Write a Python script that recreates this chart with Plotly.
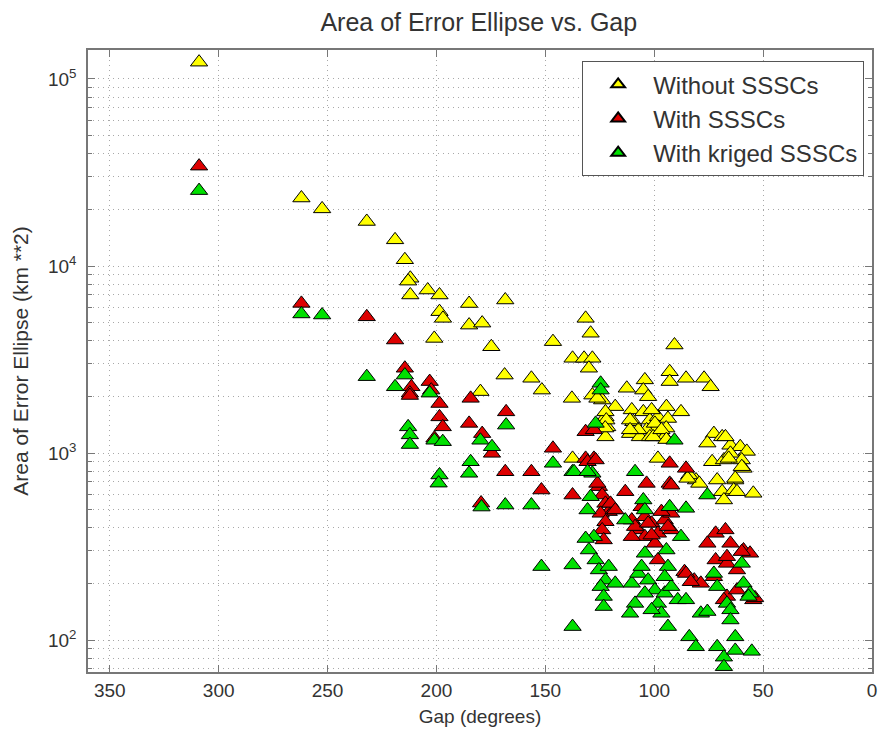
import plotly.graph_objects as go

# ---- data ----
gap_without = [309, 262, 252.5, 232, 219, 214.5, 212, 213, 212, 204, 198.6, 198.6, 197, 201,
               185, 168.4, 185, 179, 174.8, 146.5, 131.5, 129.2, 137.5, 132.2, 128.4, 130,
               168.7, 156.4, 151.6, 179.8, 137.8, 90.7, 92.9, 92.9, 85.4, 77.1, 74.1, 112.6,
               104.3, 105, 102.8, 128.4, 123.9, 117.9, 122.4, 121.6, 122.4, 110.3, 109.6, 111.1,
               106.6, 105, 102, 98.3, 94.4, 87.7, 93.7, 98.3, 94.5, 103.5, 99, 102, 95.2, 107.3,
               72.6, 75.6, 68.8, 65, 60.5, 57.5, 73.4, 68, 65, 59.8, 59, 71.1, 62.8, 68.8, 63.5,
               54.5, 68, 80.8, 83.9, 98.3, 79.3, 67.3, 65.8, 59.8, 84.7, 62.8, 62, 137.5, 122.4,
               122, 122.5, 111.1, 111.1, 101.2, 99.7, 100.5, 96.7, 94.4, 126.1]
area_without = [123000, 23100, 20200, 17300, 13800, 10800, 8600, 8300, 7000, 7440, 7000, 5700, 5250, 4100,
                6300, 6580, 4830, 4950, 3700, 3940, 5250, 4370, 3210, 3210, 3210, 2840,
                2610, 2510, 2170, 2130, 1960, 3780, 2720, 2410, 2510, 2510, 2260, 2220,
                2460, 2170, 2000, 2040, 1920, 1770, 1560, 1380, 1220, 1700, 1470, 1270,
                1220, 1660, 1500, 1560, 1770, 1660, 1530, 1380, 1360, 1330, 1220, 1220, 1220, 1330,
                1270, 1130, 1220, 1100, 1080, 1020, 898, 918, 996, 918, 828, 717, 717, 621, 634,
                609, 561, 717, 763, 936, 688, 1220, 936, 845, 732, 732, 621, 936, 1660,
                1500, 1360, 1500, 1330, 1700, 1440, 1220, 1330, 1180, 1960]

gap_with = [309, 262, 232, 219, 214.5, 211.5, 212.2, 212.2, 203.1, 202.4, 198.6, 198.6, 197.1,
            184.3, 185, 168, 179, 174.5, 200.9, 168.4, 156.4, 146.5, 131.5, 127.7, 131.5, 127.7,
            151.8, 137.5, 179.5, 130.6, 126.9, 125.4, 123.9, 122.4, 120.9, 124.6, 122.4, 123.9,
            123.2, 118.6, 126.1, 120.1, 117.9, 113.3, 103.5, 92.9, 92.9, 85.4, 110.3, 107.3,
            104.3, 101.2, 98.3, 95.2, 92.2, 104.3, 110.3, 99.7, 92.2, 105.8, 96.7, 98.3, 108.8,
            102.8, 93.7, 101.2, 92.2, 71.8, 67.3, 75.6, 65, 59, 56, 71.8, 66.6, 62, 86.1, 81.6,
            78.6, 72.6, 66.6, 54.5, 62, 85.4, 83.2, 68, 53.7, 66.6, 59.8]
area_with = [34200, 6310, 5350, 4020, 2840, 2260, 2090, 2030, 2410, 2170, 1840, 1560, 1380,
             1960, 1440, 1660, 1270, 996, 1200, 794, 794, 1060, 1300, 1330, 936, 936,
             634, 596, 540, 898, 918, 661, 596, 538, 486, 476, 429, 388,
             343, 496, 688, 538, 496, 621, 688, 688, 881, 828, 438, 388,
             456, 421, 372, 438, 388, 357, 357, 329, 476, 516, 486, 268, 404,
             421, 404, 364, 673, 372, 388, 329, 329, 303, 291, 268, 257, 237, 232, 209,
             201, 218, 171, 164, 185, 227, 205, 164, 168, 279, 297]

gap_kriged = [309, 262, 252.5, 232, 219, 214.5, 213, 212.2, 212.2, 203.1, 200.9, 197.1, 198.6,
              199, 184.3, 185, 179.8, 174.5, 168, 146.5, 137.5, 128.4, 179.3, 168.4, 156.4,
              151.8, 137.5, 137.5, 136.8, 130.6, 108.8, 129.2, 130.6, 127.7, 131.5, 130, 126.9,
              125.4, 122.4, 124.6, 123.2, 123.2, 120.9, 117.9, 113.3, 105, 104.3, 92.9, 85.4,
              87.7, 104.3, 94.4, 93.7, 110.3, 107.3, 102.8, 99.7, 104.3, 108.8, 111.1, 98.3,
              95.2, 92.2, 89.2, 96.7, 93.7, 101.2, 85.4, 105.8, 95.2, 78.6, 75.6, 83.9, 80.9,
              71.1, 68, 68, 62.8, 62.8, 55.2, 72.6, 71.1, 66.6, 65, 59.8, 59, 56, 75.6, 124.6,
              124.6, 126.9, 90.7, 65, 56.7]
area_kriged = [25300, 5540, 5470, 2560, 2260, 2610, 1380, 1250, 1110, 2090, 1170, 1150, 763,
               690, 898, 779, 1170, 1080, 1410, 881, 794, 779, 514, 527, 527,
               247, 252, 118, 794, 794, 794, 584, 496, 357, 349, 303, 268,
               237, 209, 193, 171, 151, 247, 201, 438, 561, 496, 516, 506,
               357, 291, 303, 247, 201, 227, 209, 185, 178, 157, 139, 157,
               178, 193, 164, 139, 118, 145, 164, 247, 218, 139, 142, 104, 92,
               92, 81, 72, 104, 88, 87, 227, 193, 157, 145, 257, 201, 178, 596, 2360,
               2170, 1440, 1170, 128, 171]

series_names = ["Without SSSCs", "With SSSCs", "With kriged SSSCs"]
series_colors = ["#FFFF00", "#DD0000", "#00E000"]

x_ticks = [0, 50, 100, 150, 200, 250, 300, 350]
y_major = [100, 1000, 10000, 100000]
y_major_text = ["10<sup>2</sup>", "10<sup>3</sup>", "10<sup>4</sup>", "10<sup>5</sup>"]
y_minor = [m * d for d in (10, 100, 1000, 10000, 100000) for m in range(2, 10)]

FONT = "Liberation Sans, Arial, Helvetica, sans-serif"
GRID = "#a8a8a8"
DOTS = "1px,4px"

fig = go.Figure()
for name, color, xs, ys in zip(series_names, series_colors,
                               [gap_without, gap_with, gap_kriged],
                               [area_without, area_with, area_kriged]):
    fig.add_trace(go.Scatter(
        x=xs, y=ys, mode="markers", name=name,
        marker=dict(symbol="triangle-up", size=15, color=color,
                    line=dict(color="black", width=1)),
    ))

axis_common = dict(
    showline=True, linecolor="#777777", linewidth=1.5, mirror="ticks",
    ticks="inside", tickcolor="#777777", ticklen=7,
    showgrid=True, gridcolor=GRID, griddash=DOTS, gridwidth=1,
    zeroline=False,
    tickfont=dict(family=FONT, size=19, color="#333333"),
)

# the page body adds an 8px offset, so the figure is sized 880x727
fig.update_layout(
    width=880, height=727,
    margin=dict(l=74, r=11, t=42, b=63),
    paper_bgcolor="white", plot_bgcolor="white",
    font=dict(family=FONT, color="#333333"),
    title=dict(text="Area of Error Ellipse vs. Gap", x=0.535, xanchor="center",
               y=0.981, yanchor="middle", font=dict(family=FONT, size=25, color="#333333")),
    xaxis=dict(range=[360, 0], tickvals=x_ticks, **axis_common,
               title=dict(text="Gap (degrees)", standoff=10,
                          font=dict(family=FONT, size=19, color="#333333"))),
    yaxis=dict(type="log", range=[1.829, 5.155], tickvals=y_major, ticktext=y_major_text,
               ticklabelstandoff=6,
               minor=dict(tickvals=y_minor, ticks="inside", ticklen=4, tickcolor="#777777",
                          showgrid=True, gridcolor=GRID, griddash=DOTS),
               **axis_common,
               title=dict(text="Area of Error Ellipse (km **2)", standoff=14,
                          font=dict(family=FONT, size=21, color="#333333"))),
    legend=dict(x=0.99, y=0.982, xanchor="right", yanchor="top",
                bgcolor="white", bordercolor="#555555", borderwidth=1,
                font=dict(family=FONT, size=24, color="#333333"),
                itemwidth=60, itemsizing="constant"),
    showlegend=True,
)

fig.write_html("out.html")
